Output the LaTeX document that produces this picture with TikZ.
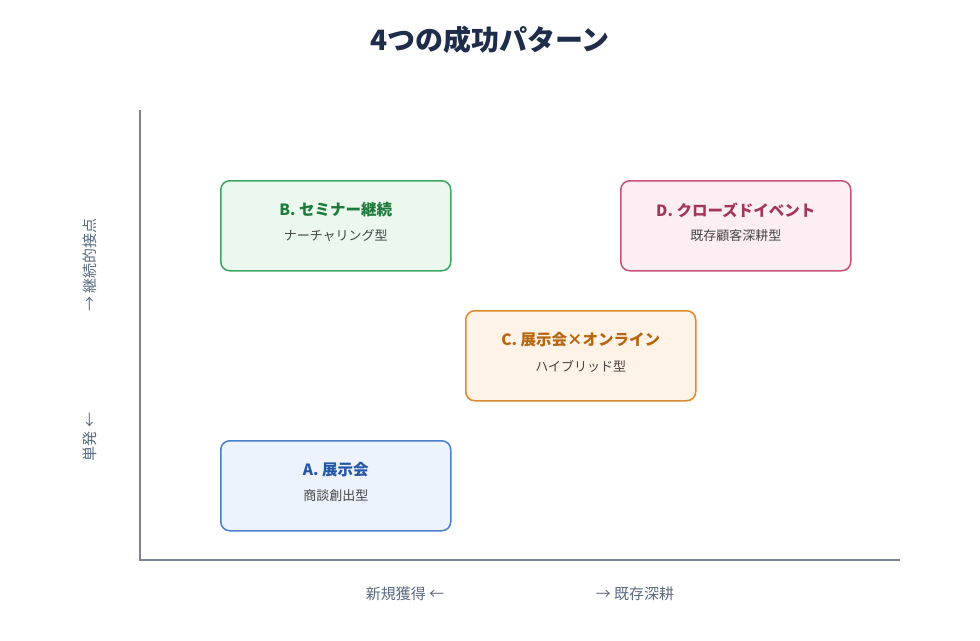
\documentclass[tikz,border=0pt]{standalone}
\usepackage{fontspec}
\setmainfont{Noto Sans CJK JP}
\usetikzlibrary{positioning}
\definecolor{navy}{HTML}{1E2D4A}
\definecolor{axisgray}{HTML}{7A8594}
\definecolor{labelgray}{HTML}{5B6B80}
\definecolor{subgray}{HTML}{444444}
\definecolor{grnline}{HTML}{3DA660}\definecolor{grnfill}{HTML}{EAF8EE}\definecolor{grntext}{HTML}{1E7A3A}
\definecolor{pnkline}{HTML}{C9527C}\definecolor{pnkfill}{HTML}{FCEEF2}\definecolor{pnktext}{HTML}{A3355C}
\definecolor{orgline}{HTML}{DD8A2E}\definecolor{orgfill}{HTML}{FEF3E6}\definecolor{orgtext}{HTML}{B8650F}
\definecolor{bluline}{HTML}{4A7FCC}\definecolor{blufill}{HTML}{EDF3FD}\definecolor{blutext}{HTML}{2456A6}
\tikzset{
  pattern/.style={draw=#1line,fill=#1fill,line width=1.5pt,rounded corners=9pt,
    minimum width=230pt,minimum height=90pt,anchor=north west},
  ptitle/.style={font=\fontsize{15.5}{18}\selectfont\bfseries},
  psub/.style={font=\fontsize{13}{16}\selectfont,text=subgray},
  axlabel/.style={font=\fontsize{15}{18}\selectfont,text=labelgray}
}
\begin{document}
\begin{tikzpicture}[x=1pt,y=-1pt]
\useasboundingbox[fill=white] (0,0) rectangle (980,640);
\node[font=\fontsize{28}{32}\selectfont\bfseries,text=navy] (title) at (490,40) {4つの成功パターン};
% axes
\coordinate (origin) at (140,560);
\coordinate (ytop) at (140,110);
\coordinate (xend) at (900,560);
\draw[axisgray,line width=1.5pt] (ytop) -- (origin) -- (xend);
\node[axlabel,rotate=90] (yhigh) at (90,265) {→ 継続的接点};
\node[axlabel,rotate=90] (ylow) at (90,437) {単発 ←};
\node[axlabel] (xlow) at (405,594) {新規獲得 ←};
\node[axlabel] (xhigh) at (635,594) {→ 既存深耕};
% patterns
\node[pattern=grn] (B) at (220,180) {};
\node[ptitle,text=grntext] at ([yshift=-30pt]B.north) {B. セミナー継続};
\node[psub] at ([yshift=-56pt]B.north) {ナーチャリング型};
\node[pattern=pnk] (D) at (620,180) {};
\node[ptitle,text=pnktext] at ([yshift=-30pt]D.north) {D. クローズドイベント};
\node[psub] at ([yshift=-56pt]D.north) {既存顧客深耕型};
\node[pattern=org] (C) at (465,310) {};
\node[ptitle,text=orgtext] at ([yshift=-30pt]C.north) {C. 展示会×オンライン};
\node[psub] at ([yshift=-56pt]C.north) {ハイブリッド型};
\node[pattern=blu] (A) at (220,440) {};
\node[ptitle,text=blutext] at ([yshift=-30pt]A.north) {A. 展示会};
\node[psub] at ([yshift=-56pt]A.north) {商談創出型};
\end{tikzpicture}
\end{document}
